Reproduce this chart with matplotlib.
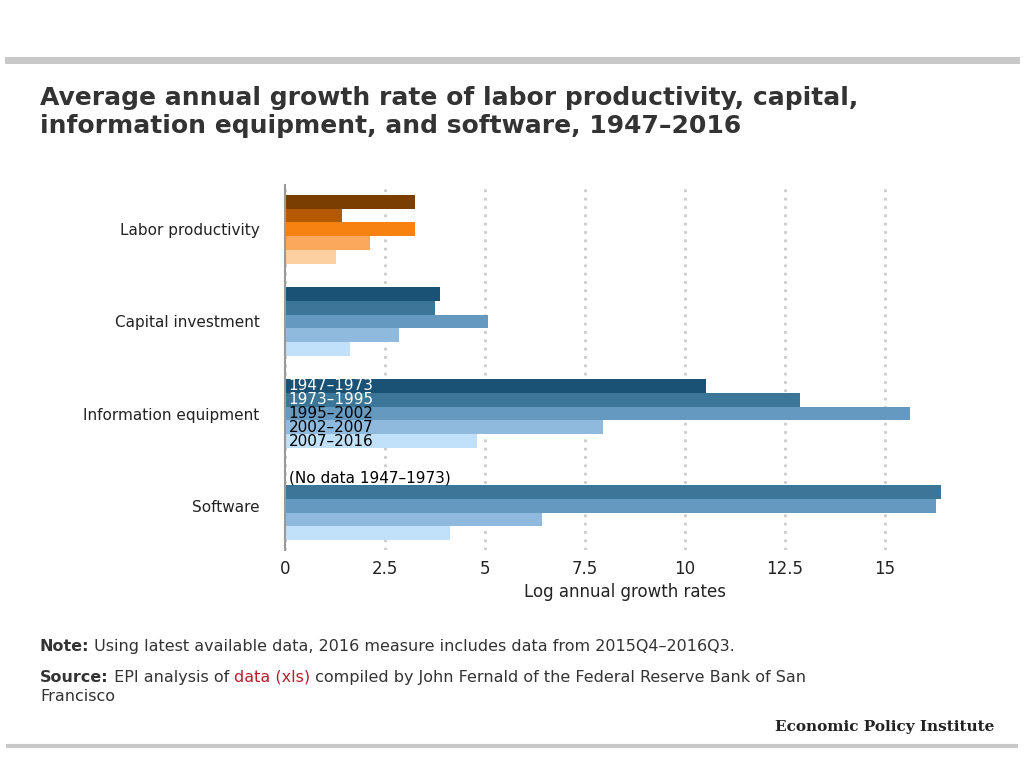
import matplotlib
matplotlib.use("Agg")
import matplotlib.pyplot as plt
import numpy as np

categories = ["Labor productivity", "Capital investment", "Information equipment", "Software"]
periods = ["1947\u20131973", "1973\u20131995", "1995\u20132002", "2002\u20132007", "2007\u20132016"]
labor = [3.25, 1.43, 3.25, 2.13, 1.28]
capital = [3.88, 3.75, 5.08, 2.85, 1.63]
info = [10.53, 12.88, 15.63, 7.95, 4.80]
software = [np.nan, 16.40, 16.28, 6.43, 4.13]
series = [labor, capital, info, software]
ticks = [0, 2.5, 5, 7.5, 10, 12.5, 15]
tick_labels = ["0", "2.5", "5", "7.5", "10", "12.5", "15"]

orange = ["#7a3f00", "#b35a00", "#f7820f", "#fba85c", "#fdd0a2"]
blue = ["#1a5276", "#3b7698", "#6699bf", "#8fbade", "#c1e0fa"]

plt.rcParams['font.family'] = ['DejaVu Sans']
fig = plt.figure(figsize=(10.24, 7.68), dpi=100)
ax = fig.add_axes([0.278, 0.284, 0.664, 0.475])

bh = 0.15
for ci, vals in enumerate(series):
    cols = orange if ci == 0 else blue
    for pi, v in enumerate(vals):
        y = ci + (pi - 2) * bh
        if not np.isnan(v):
            ax.barh(y, v, height=bh, color=cols[pi], zorder=2)
ax.set_ylim(3.48, -0.48)
ax.set_xlim(0, 17)
ax.set_yticks(range(4))
ax.set_yticklabels(categories, fontsize=11, color="#222222")
ax.set_xticks(ticks)
ax.set_xticklabels(tick_labels, fontsize=12, color="#222222")
ax.tick_params(length=0, pad=7)
ax.tick_params(axis="y", pad=18)
ax.xaxis.grid(True, linestyle=(0, (1, 2)), color="#cccccc", linewidth=2, zorder=0)
for s in ["top", "right", "bottom"]:
    ax.spines[s].set_visible(False)
ax.spines["left"].set_color("#999999")
ax.spines["left"].set_linewidth(1.5)
ax.set_xlabel("Log annual growth rates", fontsize=12, color="#222222")

txtcols = ["white", "white", "black", "black", "black"]
for pi, p in enumerate(periods):
    ax.text(0.1, 2 + (pi - 2) * bh, p, va="center", ha="left", fontsize=11, color=txtcols[pi], zorder=3)
ax.text(0.1, 3 - 2 * bh, "(No data 1947\u20131973)", va="center", ha="left", fontsize=11, zorder=3)

fig.add_artist(plt.Line2D([0.008, 0.992], [0.922, 0.922], color="#c8c8c8", linewidth=5))
fig.add_artist(plt.Line2D([0.008, 0.992], [0.028, 0.028], color="#c8c8c8", linewidth=3))
fig.text(0.039, 0.82, "Average annual growth rate of labor productivity, capital,\ninformation equipment, and software, 1947\u20132016",
         fontsize=18, fontweight="bold", color="#333333", va="bottom", linespacing=1.2)

fig.canvas.draw()
r = fig.canvas.get_renderer()
def run(x, y, parts):
    for txt, kw in parts:
        t = fig.text(x, y, txt, fontsize=11.5, color=kw.get("c", "#333333"), fontweight=kw.get("w", "normal"))
        x += t.get_window_extent(r).width / fig.bbox.width
run(0.039, 0.152, [("Note:", {"w": "bold"}), (" Using latest available data, 2016 measure includes data from 2015Q4\u20132016Q3.", {})])
run(0.039, 0.112, [("Source:", {"w": "bold"}), (" EPI analysis of ", {}), ("data (xls)", {"c": "#b5202e"}),
                   (" compiled by John Fernald of the Federal Reserve Bank of San", {})])
fig.text(0.039, 0.087, "Francisco", fontsize=11.5, color="#333333")
fig.text(0.971, 0.048, "Economic Policy Institute", fontsize=11, fontweight="bold", family="DejaVu Serif", ha="right", color="#222222")
fig.savefig("out.png", dpi=100)
